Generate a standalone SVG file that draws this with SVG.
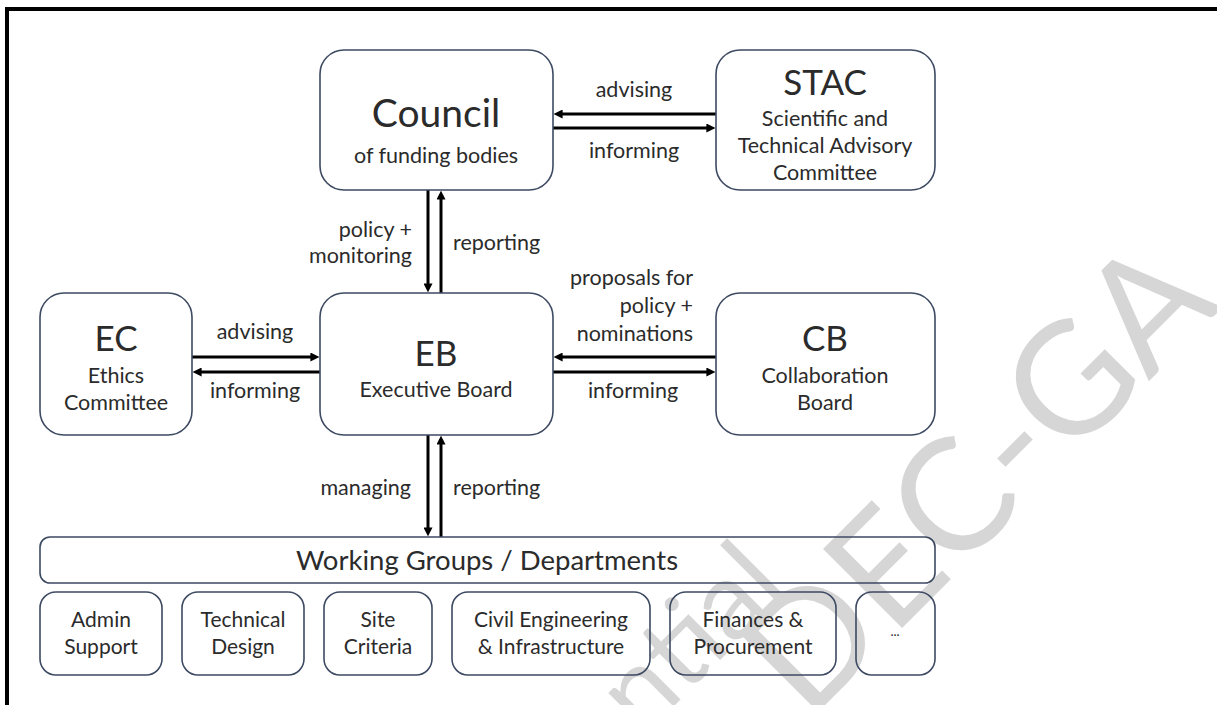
<svg xmlns="http://www.w3.org/2000/svg" width="1217" height="705" viewBox="0 0 1217 705">
<defs>
<style>
.box{fill:none;stroke:#3d4a62;stroke-width:1.6}
.t{font-family:Lato,"Liberation Sans",sans-serif;fill:#2b2b2b;text-anchor:middle}
.big{font-size:35px}
.sub{font-size:21.5px}
.lbl{font-family:Lato,"Liberation Sans",sans-serif;fill:#2b2b2b;font-size:21.5px}
.wg{font-size:27.5px}
.sm{font-size:21px}
.ar{stroke:#000;stroke-width:3;fill:none;marker-end:url(#ah)}
.wm{font-family:Lato,"Liberation Sans",sans-serif;fill:#d6d6d6}
</style>
<marker id="ah" viewBox="0 0 10 10" refX="4" refY="5" markerWidth="3" markerHeight="3" orient="auto" markerUnits="strokeWidth">
<path d="M0,0 L10,5 L0,10 z" fill="#000"/>
</marker>
</defs>
<rect width="1217" height="705" fill="#fff"/>
<g id="watermark">
<text class="wm" font-size="110" text-anchor="end" transform="translate(790,590) rotate(-45)">Confidential</text>
<text class="wm" font-size="156" transform="translate(808,722) rotate(-45)">DEC-GA</text>
</g>
<path d="M7,705 V9 H1217" fill="none" stroke="#000" stroke-width="4"/>
<g id="connectors">
<line class="ar" x1="716" y1="114" x2="559" y2="114"/>
<line class="ar" x1="553" y1="128" x2="710" y2="128"/>
<line class="ar" x1="428" y1="190" x2="428" y2="287"/>
<line class="ar" x1="441" y1="293" x2="441" y2="196"/>
<line class="ar" x1="192" y1="357" x2="314" y2="357"/>
<line class="ar" x1="320" y1="372" x2="198" y2="372"/>
<line class="ar" x1="716" y1="357" x2="559" y2="357"/>
<line class="ar" x1="553" y1="372" x2="710" y2="372"/>
<line class="ar" x1="428" y1="435" x2="428" y2="531"/>
<line class="ar" x1="441" y1="537" x2="441" y2="441"/>
<text class="lbl" x="634" y="97" text-anchor="middle">advising</text>
<text class="lbl" x="634" y="158" text-anchor="middle">informing</text>
<text class="lbl" x="412" y="237" text-anchor="end">policy +</text>
<text class="lbl" x="412" y="263" text-anchor="end">monitoring</text>
<text class="lbl" x="453" y="250">reporting</text>
<text class="lbl" x="255" y="339" text-anchor="middle">advising</text>
<text class="lbl" x="255" y="398" text-anchor="middle">informing</text>
<text class="lbl" x="693" y="285" text-anchor="end">proposals for</text>
<text class="lbl" x="693" y="313" text-anchor="end">policy +</text>
<text class="lbl" x="693" y="341" text-anchor="end">nominations</text>
<text class="lbl" x="633" y="398" text-anchor="middle">informing</text>
<text class="lbl" x="411" y="495" text-anchor="end">managing</text>
<text class="lbl" x="453" y="495">reporting</text>
</g>
<g id="council">
<rect class="box" x="320" y="50" width="233" height="140" rx="24"/>
<text class="t" font-size="39" x="436" y="127">Council</text>
<text class="t sub" x="436" y="163">of funding bodies</text>
</g>
<g id="stac">
<rect class="box" x="716" y="50" width="219" height="140" rx="24"/>
<text class="t" font-size="35" x="825" y="95">STAC</text>
<text class="t sub" x="825" y="126">Scientific and</text>
<text class="t sub" x="825" y="153">Technical Advisory</text>
<text class="t sub" x="825" y="180">Committee</text>
</g>
<g id="ec">
<rect class="box" x="40" y="293" width="152" height="142" rx="24"/>
<text class="t big" x="116" y="351">EC</text>
<text class="t sub" x="116" y="383">Ethics</text>
<text class="t sub" x="116" y="410">Committee</text>
</g>
<g id="eb">
<rect class="box" x="320" y="293" width="233" height="142" rx="24"/>
<text class="t big" x="436" y="366">EB</text>
<text class="t sub" x="436" y="397">Executive Board</text>
</g>
<g id="cb">
<rect class="box" x="716" y="293" width="219" height="142" rx="24"/>
<text class="t big" x="825" y="351">CB</text>
<text class="t sub" x="825" y="383">Collaboration</text>
<text class="t sub" x="825" y="410">Board</text>
</g>
<g id="wg">
<rect class="box" x="40" y="537" width="895" height="46" rx="10"/>
<text class="t wg" x="487" y="570">Working Groups / Departments</text>
</g>
<g id="admin">
<rect class="box" x="40" y="592" width="122" height="83" rx="16"/>
<text class="t sm" x="101" y="627">Admin</text>
<text class="t sm" x="101" y="654">Support</text>
</g>
<g id="techdesign">
<rect class="box" x="182" y="592" width="122" height="83" rx="16"/>
<text class="t sm" x="243" y="627">Technical</text>
<text class="t sm" x="243" y="654">Design</text>
</g>
<g id="site">
<rect class="box" x="324" y="592" width="108" height="83" rx="16"/>
<text class="t sm" x="378" y="627">Site</text>
<text class="t sm" x="378" y="654">Criteria</text>
</g>
<g id="civil">
<rect class="box" x="452" y="592" width="198" height="83" rx="16"/>
<text class="t sm" x="551" y="627">Civil Engineering</text>
<text class="t sm" x="551" y="654">&amp; Infrastructure</text>
</g>
<g id="finances">
<rect class="box" x="670" y="592" width="166" height="83" rx="16"/>
<text class="t sm" x="753" y="627">Finances &amp;</text>
<text class="t sm" x="753" y="654">Procurement</text>
</g>
<g id="more">
<rect class="box" x="856" y="592" width="79" height="83" rx="16"/>
<text class="t" x="895" y="636" font-size="13" fill="#555">...</text>
</g>
</svg>
